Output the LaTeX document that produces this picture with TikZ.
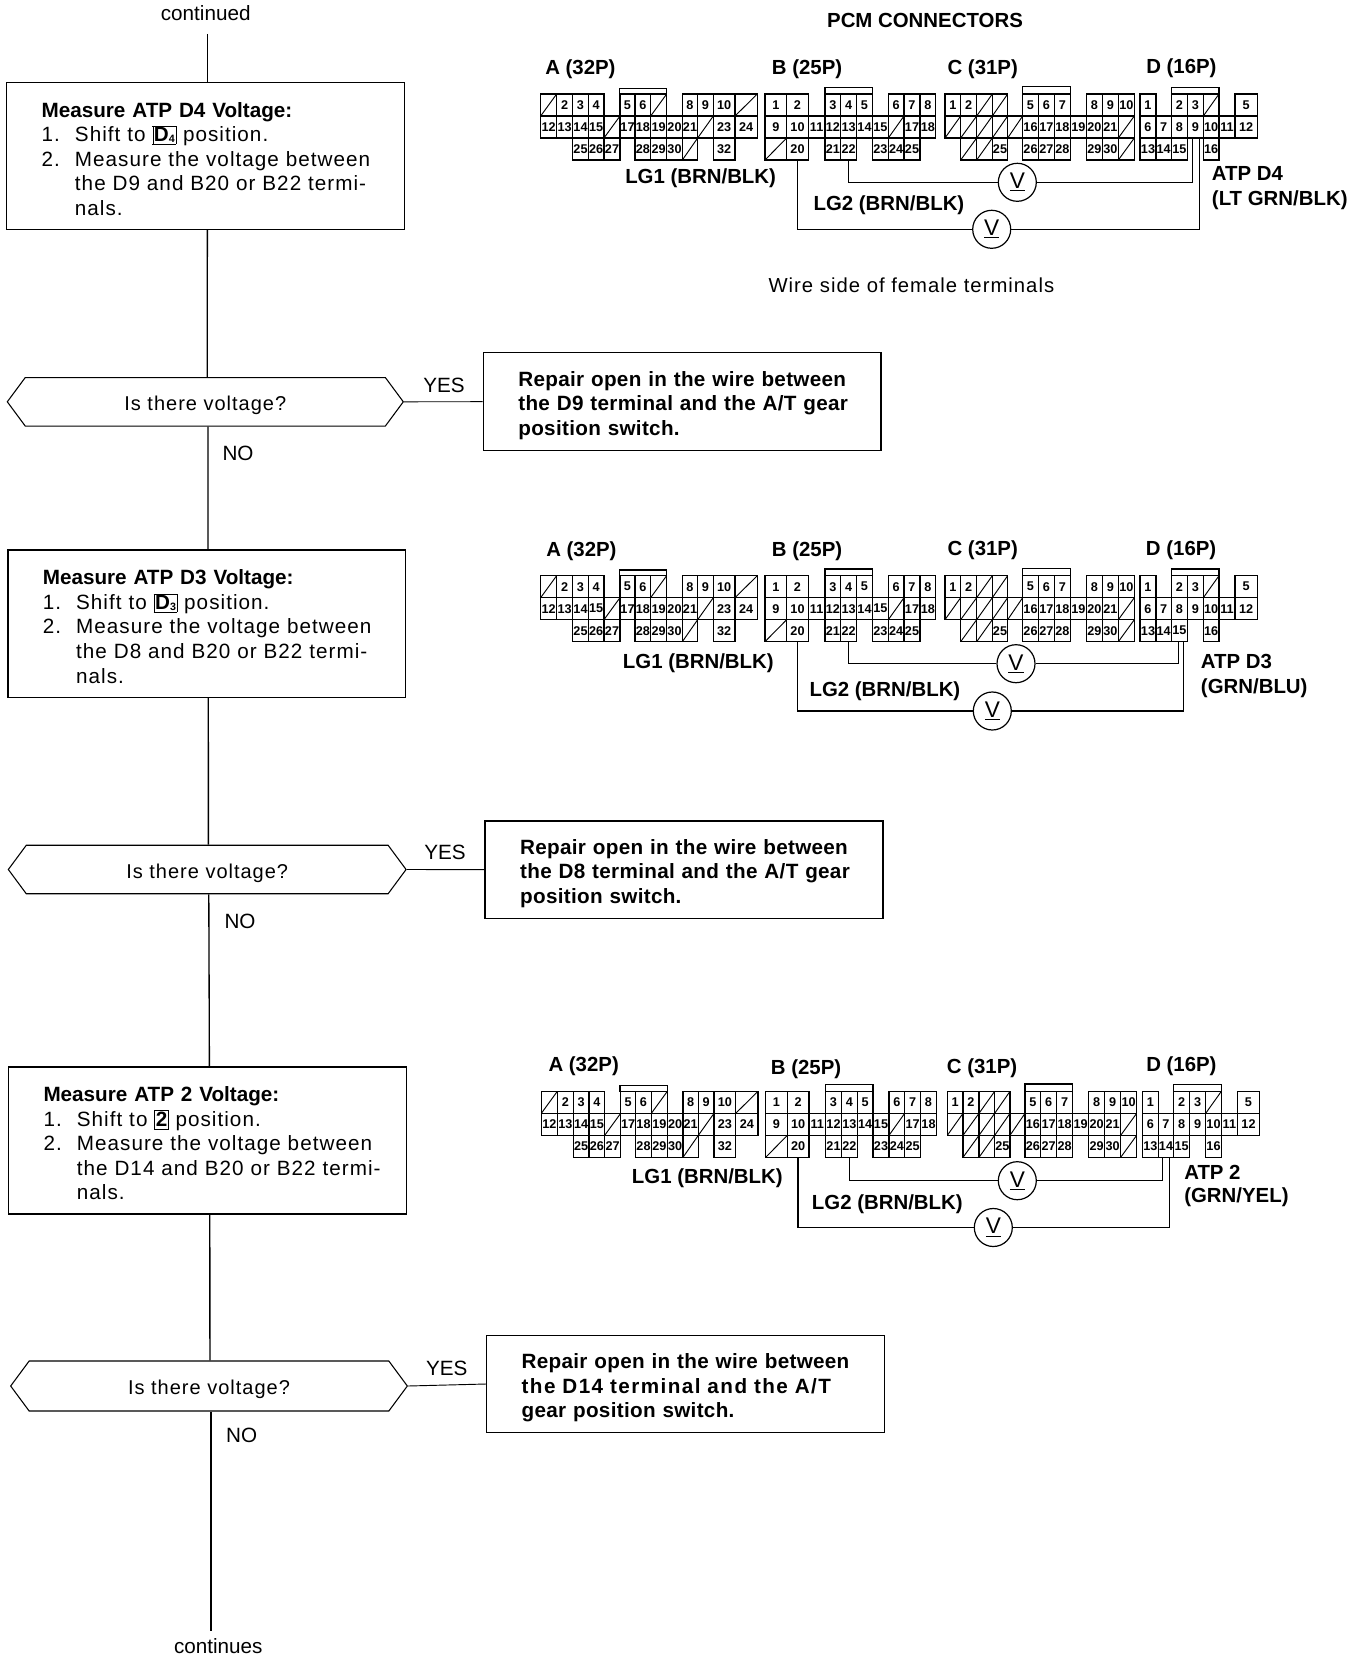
\documentclass[tikz,border=0pt]{standalone}
\usepackage{fontspec}
\setmainfont{Liberation Sans}
\newfontfamily\stepfont[LetterSpace=5]{Liberation Sans}
\newfontfamily\fixfont[LetterSpace=1.5]{Liberation Sans}
\newfontfamily\widefont[LetterSpace=7]{Liberation Sans}
\usetikzlibrary{shapes.symbols}
\tikzset{
	stepbox/.style={draw,line width=1pt,minimum width=298.3pt,text width=245.8pt,inner xsep=26.25pt,inner ysep=0pt,align=left,font=\fontsize{15.5}{18.45}\selectfont\stepfont},
	fixbox/.style={stepbox,font=\fontsize{15.5}{18.45}\selectfont\fixfont\bfseries},
	hexbox/.style={draw,line width=.8pt,signal,signal to=east and west,signal pointer angle=107,minimum height=36.4pt,inner sep=0pt,text height=13pt,text depth=0pt,font=\fontsize{15}{18}\selectfont\stepfont},
	flow/.style={line width=1pt},
	wire/.style={line width=1.1pt},
	pincell/.style={draw,line width=.9pt,inner sep=0pt,outer sep=0pt,minimum height=16.5pt,font=\fontsize{9.5}{10}\selectfont\bfseries},
	deadpin/.style={path picture={\draw[line width=.7pt] (path picture bounding box.south west)--(path picture bounding box.north east);}},
	meter/.style={draw,circle,line width=.9pt,minimum size=28.5pt,inner sep=0pt,font=\fontsize{17}{18}\selectfont},
	conlabel/.style={anchor=west,inner sep=0pt,yshift=-1.1pt,font=\fontsize{15.3}{18}\selectfont\bfseries},
	plainlabel/.style={inner sep=0pt,font=\fontsize{15.5}{18}\selectfont}
}
\newcommand{\numl}[1]{\makebox[25pt][l]{#1}}
\newcommand{\nw}[1]{\makebox[\linewidth][l]{#1}}
\newcommand{\gearsym}[2]{\smash{\setlength{\fboxsep}{.8pt}\setlength{\fboxrule}{.25pt}\fbox{\rmfamily\bfseries #1\raisebox{-1pt}{\fontsize{8}{8}\selectfont #2}}}}
\newcommand{\pinrow}[4]{
	\foreach \xa/\xb/\lab in {#4}{
		\ifnum\lab=0
		\node[pincell,deadpin,minimum width={(\xb-\xa)*0.25pt}] (#1#3\xa) at ({(\xa+\xb)/2},#2) {};
		\else
		\node[pincell,minimum width={(\xb-\xa)*0.25pt}] (#1\lab) at ({(\xa+\xb)/2},#2) {\lab};
		\fi
	}
}
\newcommand{\pcmblock}[4]{
	\begin{scope}[x=0.25pt,y=-0.25pt,shift={({1560+#3},#2)}]
		\draw[line width=.9pt] (298,265) rectangle (440,282);
		\draw[line width=.9pt] (915,262) rectangle (1057,282);
		\pinrow{#1A}{315}{r}{62/110/0,110/158/2,158/205/3,205/252/4,300/345/5,345/392/6,392/440/0,487/533/8,533/580/9,580/645/10,645/712/0}
		\pinrow{#1A}{381}{s}{62/110/12,110/158/13,158/205/14,205/252/15,252/300/0,300/345/17,345/392/18,392/440/19,440/487/20,487/533/21,533/580/0,580/645/23,645/712/24}
		\pinrow{#1A}{447}{t}{158/205/25,205/252/26,252/300/27,345/392/28,392/440/29,440/487/30,487/533/0,580/645/32}
		\pinrow{#1B}{315}{r}{735/800/1,800/865/2,915/962/3,962/1010/4,1010/1057/5,1105/1152/6,1152/1200/7,1200/1247/8}
		\pinrow{#1B}{381}{s}{735/800/9,800/865/10,865/915/11,915/962/12,962/1010/13,1010/1057/14,1057/1105/15,1105/1152/0,1152/1200/17,1200/1247/18}
		\pinrow{#1B}{447}{t}{735/800/0,800/865/20,915/962/21,962/1010/22,1057/1105/23,1105/1152/24,1152/1200/25}
	\end{scope}
	\begin{scope}[x=0.25pt,y=-0.25pt,shift={({2790+#4},#2)}]
		\draw[line width=.9pt] (278,260) rectangle (421,282);
		\draw[line width=.9pt] (724,262) rectangle (867,282);
		\pinrow{#1C}{315}{r}{45/92/1,92/140/2,140/187/0,187/233/0,278/325/5,325/373/6,373/421/7,469/517/8,517/565/9,565/613/10}
		\pinrow{#1C}{381}{s}{45/92/0,92/140/0,140/187/0,187/233/0,233/278/0,278/325/16,325/373/17,373/421/18,421/469/19,469/517/20,517/565/21,565/613/0}
		\pinrow{#1C}{447}{t}{92/140/0,140/187/0,187/233/25,278/325/26,325/373/27,373/421/28,469/517/29,517/565/30,565/613/0}
		\pinrow{#1D}{315}{r}{630/678/1,724/772/2,772/820/3,820/867/0,915/982/5}
		\pinrow{#1D}{381}{s}{630/678/6,678/724/7,724/772/8,772/820/9,820/867/10,867/915/11,915/982/12}
		\pinrow{#1D}{447}{t}{630/678/13,678/724/14,724/772/15,820/867/16}
	\end{scope}
}
\begin{document}
\begin{tikzpicture}[x=0.75pt,y=-0.75pt]
	\useasboundingbox (0,0) rectangle (1360,1658);

	\node[plainlabel] (contd) at (205.7,13.3) {continued};
	\coordinate (topend) at (207.3,34);
	\node[stepbox,minimum height=110pt] (boxa) at (205.5,156) {\rule{0pt}{15.5pt}{\rmfamily\bfseries Measure ATP D4 Voltage:}\\
		\numl{1.}Shift to \gearsym{D}{4} position.\\
		\numl{2.}\nw{Measure the voltage between}\\
		\numl{}\nw{the D9 and B20 or B22 termi-}\\
		\numl{}nals.};
	\node[hexbox,minimum width=297pt] (hexa) at (205.3,401.8) {Is there voltage?};
	\node[fixbox,minimum height=73.5pt] (fixa) at (682.2,401.7) {\rule{0pt}{17pt}\nw{Repair open in the wire between}\\
		\nw{the D9 terminal and the A/T gear}\\
		position switch.};
	\node[plainlabel] (yesa) at (444,385) {YES};
	\node[plainlabel] (noa) at (238,453) {NO};
	\draw[flow] (topend) -- (topend |- boxa.north);
	\draw[flow] ([xshift=1.4pt]boxa.south) -- ([xshift=1.4pt]hexa.north);
	\draw[line width=.7pt] (hexa.east) -- (fixa.west);

	\node[stepbox,minimum height=110.5pt] (boxb) at (206.7,623.7) {\rule{0pt}{15.5pt}{\rmfamily\bfseries Measure ATP D3 Voltage:}\\
		\numl{1.}Shift to \gearsym{D}{3} position.\\
		\numl{2.}\nw{Measure the voltage between}\\
		\numl{}\nw{the D8 and B20 or B22 termi-}\\
		\numl{}nals.};
	\node[hexbox,minimum width=298.3pt] (hexb) at (207.2,869.5) {Is there voltage?};
	\node[fixbox,minimum height=73pt] (fixb) at (684,869.6) {\rule{0pt}{17pt}\nw{Repair open in the wire between}\\
		\nw{the D8 terminal and the A/T gear}\\
		position switch.};
	\node[plainlabel] (yesb) at (445,852.3) {YES};
	\node[plainlabel] (nob) at (240,921.7) {NO};
	\draw[flow] ([xshift=2pt]hexa.south) -- ([xshift=1pt]boxb.north);
	\draw[flow] ([xshift=1.2pt]boxb.south) -- ([xshift=.9pt]hexb.north);
	\draw[line width=.7pt] (hexb.east) -- (fixb.west);

	\node[stepbox,minimum height=110.3pt] (boxc) at (207.4,1140.5) {\rule{0pt}{15.5pt}{\rmfamily\bfseries Measure ATP 2 Voltage:}\\
		\numl{1.}Shift to \gearsym{2}{} position.\\
		\numl{2.}\nw{Measure the voltage between}\\
		\numl{}\nw{the D14 and B20 or B22 termi-}\\
		\numl{}nals.};
	\node[hexbox,minimum width=297.5pt,minimum height=37.5pt] (hexc) at (209,1386) {Is there voltage?};
	\node[fixbox,minimum height=72.5pt] (fixc) at (685.5,1384) {\rule{0pt}{17pt}\nw{Repair open in the wire between}\\
		\nw{\widefont the D14 terminal and the A/T}\\
		gear position switch.};
	\node[plainlabel] (yesc) at (446.7,1368.6) {YES};
	\node[plainlabel] (noc) at (241.7,1435.5) {NO};
	\coordinate (botend) at (211,1631);
	\node[plainlabel] (contn) at (218.3,1646) {continues};
	\draw[flow] ([xshift=1.2pt]hexb.south) -- ([xshift=1.5pt]boxc.north);
	\draw[flow] ([xshift=1.8pt]boxc.south) -- ([xshift=.7pt]hexc.north);
	\draw[flow] (botend |- hexc.south) -- (botend);
	\draw[line width=.7pt] (hexc.east) -- (fixc.west);

	\node[conlabel,anchor=center] (pcmtitle) at (925,19) {PCM CONNECTORS};

	\pcmblock{g1}{0}{0}{0}
	\node[conlabel] (g1la) at (545,67.7) {A (32P)};
	\node[conlabel] (g1lb) at (771.7,67.7) {B (25P)};
	\node[conlabel] (g1lc) at (947.3,67.7) {C (31P)};
	\node[conlabel] (g1ld) at (1146,66.7) {D (16P)};
	\node[conlabel] (g1lga) at (625,176.7) {LG1 (BRN/BLK)};
	\node[conlabel] (g1lgb) at (813.3,204) {LG2 (BRN/BLK)};
	\node[conlabel] (g1atp) at (1211.7,172) {ATP D4};
	\node[conlabel] (g1col) at (1211.7,199) {(LT GRN/BLK)};
	\node[meter] (g1va) at (1017.3,182.3) {\underline{V}};
	\node[meter] (g1vb) at (991.7,229.3) {\underline{V}};
	\draw[wire] ([xshift=-2pt]g1D9.south) |- (g1va);
	\draw[wire] (g1va) -| (g1B22.south);
	\draw[wire] ([xshift=3pt]g1D9.south) |- (g1vb);
	\draw[wire] (g1vb) -| (g1B20.south);
	\node[plainlabel,anchor=west,font=\fontsize{15.2}{18}\selectfont\stepfont] (wirenote) at (768.3,285.7) {Wire side of female terminals};

	\pcmblock{g2}{1445}{0}{0}
	\node[conlabel] (g2la) at (546,550) {A (32P)};
	\node[conlabel] (g2lb) at (771.7,550) {B (25P)};
	\node[conlabel] (g2lc) at (947.3,549) {C (31P)};
	\node[conlabel] (g2ld) at (1145.7,549) {D (16P)};
	\node[conlabel] (g2lga) at (622.7,661.7) {LG1 (BRN/BLK)};
	\node[conlabel] (g2lgb) at (809.3,689.3) {LG2 (BRN/BLK)};
	\node[conlabel] (g2atp) at (1200.7,660.3) {ATP D3};
	\node[conlabel] (g2col) at (1200.7,686.7) {(GRN/BLU)};
	\node[meter] (g2va) at (1016,663.7) {\underline{V}};
	\node[meter] (g2vb) at (992.3,711) {\underline{V}};
	\draw[wire] ([xshift=-.75pt]g2D15.south) |- (g2va);
	\draw[wire] (g2va) -| (g2B22.south);
	\draw[wire] ([xshift=3pt]g2D15.south) |- (g2vb);
	\draw[wire] (g2vb) -| (g2B20.south);

	\pcmblock{g3}{2992}{2}{7}
	\node[conlabel] (g3la) at (548.3,1065) {A (32P)};
	\node[conlabel] (g3lb) at (770.7,1067.3) {B (25P)};
	\node[conlabel] (g3lc) at (946.7,1066.7) {C (31P)};
	\node[conlabel] (g3ld) at (1146,1065) {D (16P)};
	\node[conlabel] (g3lga) at (631.7,1176.7) {LG1 (BRN/BLK)};
	\node[conlabel] (g3lgb) at (811.7,1202.3) {LG2 (BRN/BLK)};
	\node[conlabel] (g3atp) at (1184,1170.7) {ATP 2};
	\node[conlabel] (g3col) at (1184,1196) {(GRN/YEL)};
	\node[meter] (g3va) at (1017.3,1180.7) {\underline{V}};
	\node[meter] (g3vb) at (993.3,1227.5) {\underline{V}};
	\draw[wire] ([xshift=-2.5pt]g3D14.south) |- (g3va);
	\draw[wire] (g3va) -| (g3B22.south);
	\draw[wire] ([xshift=2.5pt]g3D14.south) |- (g3vb);
	\draw[wire] (g3vb) -| (g3B20.south);
\end{tikzpicture}
\end{document}
